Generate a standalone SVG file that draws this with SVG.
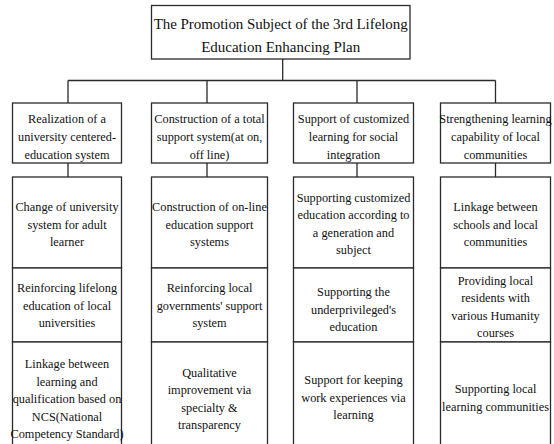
<svg xmlns="http://www.w3.org/2000/svg" width="554" height="444" viewBox="0 0 554 444">
<style>
.box{fill:#fff;stroke:#2a2a2a;stroke-width:1.3}
.con{fill:none;stroke:#2a2a2a;stroke-width:1.3}
text{font-family:"Liberation Serif","Times New Roman",serif;font-size:12.3px;fill:#111;text-anchor:middle}
.title{font-size:15px}
</style>
<rect width="554" height="444" fill="#fff"/>
<g id="connectors">
<path class="con" d="M282.7 59 V80.5 M68 80.5 H495.5 M68 80.5 V103 M207 80.5 V103 M357 80.5 V103 M495.5 80.5 V103 M68 163 V177 M207 163 V177 M357 163 V177 M495.5 163 V177"/>
</g>
<g id="root">
<rect class="box" x="151.5" y="5.5" width="258.5" height="53.5"/>
<text class="title" x="280.7" y="28.5" textLength="254" lengthAdjust="spacing">The Promotion Subject of the 3rd Lifelong</text>
<text class="title" x="280.7" y="51.5">Education Enhancing Plan</text>
</g>
<g id="h1">
<rect class="box" x="12.5" y="103" width="109" height="60"/>
<text x="67" y="123">Realization of a</text>
<text x="67" y="141">university centered-</text>
<text x="67" y="159">education system</text>
</g>
<g id="h2">
<rect class="box" x="151.5" y="103" width="116" height="60"/>
<text x="209.5" y="123">Construction of a total</text>
<text x="209.5" y="141">support system(at on,</text>
<text x="209.5" y="159">off line)</text>
</g>
<g id="h3">
<rect class="box" x="293.5" y="103" width="120" height="60"/>
<text x="353.5" y="123">Support of customized</text>
<text x="353.5" y="141">learning for social</text>
<text x="353.5" y="159">integration</text>
</g>
<g id="h4">
<rect class="box" x="440.5" y="103" width="110" height="60"/>
<text x="495.5" y="123">Strengthening learning</text>
<text x="495.5" y="141">capability of local</text>
<text x="495.5" y="159">communities</text>
</g>
<g id="c1r1">
<rect class="box" x="12.5" y="177" width="109" height="91"/>
<text x="67" y="211">Change of university</text>
<text x="67" y="228.5">system for adult</text>
<text x="67" y="246">learner</text>
</g>
<g id="c1r2">
<rect class="box" x="12.5" y="268" width="109" height="74"/>
<text x="67" y="292">Reinforcing lifelong</text>
<text x="67" y="309.5">education of local</text>
<text x="67" y="327">universities</text>
</g>
<g id="c1r3">
<rect class="box" x="12.5" y="342" width="109" height="120"/>
<text x="67" y="368">Linkage between</text>
<text x="67" y="385.5">learning and</text>
<text x="67" y="403">qualification based on</text>
<text x="67" y="420.5">NCS(National</text>
<text x="67" y="438">Competency Standard)</text>
</g>
<g id="c2r1">
<rect class="box" x="151.5" y="177" width="116" height="91"/>
<text x="209.5" y="211">Construction of on-line</text>
<text x="209.5" y="228.5">education support</text>
<text x="209.5" y="246">systems</text>
</g>
<g id="c2r2">
<rect class="box" x="151.5" y="268" width="116" height="74"/>
<text x="209.5" y="292">Reinforcing local</text>
<text x="209.5" y="309.5">governments' support</text>
<text x="209.5" y="327">system</text>
</g>
<g id="c2r3">
<rect class="box" x="151.5" y="342" width="116" height="120"/>
<text x="209.5" y="376.5">Qualitative</text>
<text x="209.5" y="394">improvement via</text>
<text x="209.5" y="411.5">specialty &amp;</text>
<text x="209.5" y="429">transparency</text>
</g>
<g id="c3r1">
<rect class="box" x="293.5" y="177" width="120" height="91"/>
<text x="353.5" y="201.5">Supporting customized</text>
<text x="353.5" y="219">education according to</text>
<text x="353.5" y="236.5">a generation and</text>
<text x="353.5" y="254">subject</text>
</g>
<g id="c3r2">
<rect class="box" x="293.5" y="268" width="120" height="74"/>
<text x="353.5" y="296">Supporting the</text>
<text x="353.5" y="313.5">underprivileged's</text>
<text x="353.5" y="331">education</text>
</g>
<g id="c3r3">
<rect class="box" x="293.5" y="342" width="120" height="120"/>
<text x="353.5" y="384">Support for keeping</text>
<text x="353.5" y="401.5">work experiences via</text>
<text x="353.5" y="419">learning</text>
</g>
<g id="c4r1">
<rect class="box" x="440.5" y="177" width="110" height="91"/>
<text x="495.5" y="211">Linkage between</text>
<text x="495.5" y="228.5">schools and local</text>
<text x="495.5" y="246">communities</text>
</g>
<g id="c4r2">
<rect class="box" x="440.5" y="268" width="110" height="74"/>
<text x="495.5" y="284.5">Providing local</text>
<text x="495.5" y="302">residents with</text>
<text x="495.5" y="319.5">various Humanity</text>
<text x="495.5" y="337">courses</text>
</g>
<g id="c4r3">
<rect class="box" x="440.5" y="342" width="110" height="120"/>
<text x="495.5" y="393">Supporting local</text>
<text x="495.5" y="410.5">learning communities</text>
</g>
</svg>
